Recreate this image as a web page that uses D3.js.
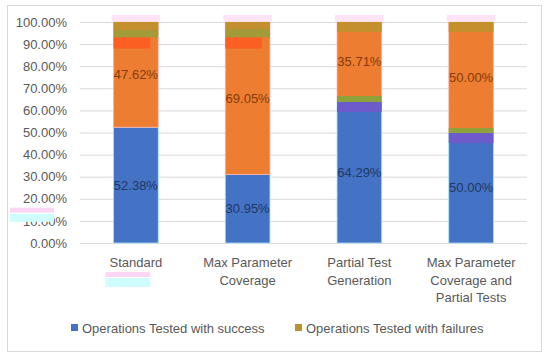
<!DOCTYPE html>
<html>
<head>
<meta charset="utf-8">
<script src="https://cdn.jsdelivr.net/npm/d3@7"></script>
<style>
  body { margin: 0; background: #fff; }
  text { font-family: "Liberation Sans", Arial, sans-serif; }
</style>
</head>
<body>
<div id="chart"></div>
<script>
/* CONSTANTS AND GLOBALS */
const width = 550,
  height = 356,
  margin = { top: 22, bottom: 113, left: 80, right: 23 };

/* DATA */
const categories = [
  ["Standard"],
  ["Max Parameter", "Coverage"],
  ["Partial Test", "Generation"],
  ["Max Parameter", "Coverage and", "Partial Tests"]
];
const successPct = [52.38, 30.95, 64.29, 50.0];
const failurePct = [47.62, 69.05, 35.71, 50.0];
const yTicks = [0, 10, 20, 30, 40, 50, 60, 70, 80, 90, 100];
const legendNames = ["Operations Tested with success", "Operations Tested with failures"];

// second, misregistered layer visible on top of the bars (bottom, top in %)
const ghostPurple = [null, null, [59.3, 63.8], [45.2, 49.8]];
const ghostGreen = [null, null, [63.8, 66.5], [49.8, 52.0]];
const ghostRed = [[88, 93], [88, 93], null, null];
const ghostOlive = [[93, 96.5], [93, 97], null, null];
const ghostGold = [[96.5, 100], [97, 100], [95.5, 100], [95.5, 100]];

const colors = {
  success: "#4472C4",
  failure: "#ED7D31",
  legendFail: "#B8922E",
  gold: "#C4902E",
  olive: "#A39A38",
  red: "#FC5F22",
  purple: "#6E5BCB",
  green: "#8DA23A"
};

const svg = d3.select("#chart")
  .append("svg")
  .attr("width", width)
  .attr("height", height);

// outer frame
svg.append("rect")
  .attr("x", 7.5).attr("y", 5.5)
  .attr("width", 534).attr("height", 346)
  .attr("fill", "#fff")
  .attr("stroke", "#d9d9d9");

/* SCALES */
const xScale = d3.scaleBand()
  .domain(d3.range(categories.length))
  .range([margin.left, width - margin.right])
  .paddingInner(0.6)
  .paddingOuter(0.3);

const yScale = d3.scaleLinear()
  .domain([0, 100])
  .range([height - margin.bottom, margin.top]);

/* GRID + Y AXIS */
const yAxis = d3.axisLeft(yScale)
  .tickValues(yTicks)
  .tickSize(-(width - margin.left - margin.right))
  .tickPadding(13)
  .tickFormat(d => d3.format(".2f")(d) + "%");

const yG = svg.append("g")
  .attr("transform", `translate(${margin.left},0)`)
  .call(yAxis);
yG.select(".domain").remove();
yG.selectAll(".tick line").attr("stroke", "#d9d9d9");
yG.selectAll(".tick text")
  .attr("fill", "#595959")
  .attr("font-size", 13);

// some of the faint pink/cyan printing ghosts
const bw = xScale.bandwidth();
svg.append("rect")
  .attr("x", xScale(0) - 8).attr("y", height - margin.bottom + 29)
  .attr("width", bw).attr("height", 5).attr("fill", "#fcd6f4");
svg.append("rect")
  .attr("x", xScale(0) - 8).attr("y", height - margin.bottom + 35)
  .attr("width", bw).attr("height", 9).attr("fill", "#cffcfc");
svg.append("rect")
  .attr("x", 10).attr("y", yScale(16))
  .attr("width", 44).attr("height", 5).attr("fill", "#fcd6f4");
svg.append("rect")
  .attr("x", 10).attr("y", yScale(13.2))
  .attr("width", 44).attr("height", 8).attr("fill", "#cffcfc");

/* BARS */
const bars = svg.append("g");

// pink caps above each bar
bars.selectAll("rect.cap")
  .data(successPct)
  .join("rect")
  .attr("class", "cap")
  .attr("x", (d, i) => xScale(i) - 2)
  .attr("y", yScale(100) - 7)
  .attr("width", bw + 4)
  .attr("height", 6)
  .attr("fill", "#fde3f6");

bars.selectAll("rect.success")
  .data(successPct)
  .join("rect")
  .attr("class", "success")
  .attr("x", (d, i) => xScale(i))
  .attr("y", d => yScale(d))
  .attr("width", bw)
  .attr("height", d => yScale(0) - yScale(d))
  .attr("fill", colors.success)
  .attr("stroke", "#a8e4f4")
  .attr("stroke-width", 0.8);

bars.selectAll("rect.failure")
  .data(failurePct)
  .join("rect")
  .attr("class", "failure")
  .attr("x", (d, i) => xScale(i))
  .attr("y", (d, i) => yScale(successPct[i] + d))
  .attr("width", bw)
  .attr("height", (d, i) => yScale(successPct[i]) - yScale(successPct[i] + d))
  .attr("fill", colors.failure)
  .attr("stroke", "#f8b4b4")
  .attr("stroke-width", 0.8);

function ghost(arr, color, cls, narrow) {
  bars.selectAll("rect." + cls)
    .data(arr.map((d, i) => ({ d, i })).filter(o => o.d))
    .join("rect")
    .attr("class", cls)
    .attr("x", o => xScale(o.i))
    .attr("y", o => yScale(o.d[1]))
    .attr("width", narrow ? bw * 0.82 : bw)
    .attr("height", o => yScale(o.d[0]) - yScale(o.d[1]))
    .attr("fill", color);
}
ghost(ghostPurple, colors.purple, "gp");
ghost(ghostGreen, colors.green, "gg");
ghost(ghostOlive, colors.olive, "go");
ghost(ghostGold, colors.gold, "gd");
ghost(ghostRed, colors.red, "gr", true);

/* LABELS */
svg.selectAll("text.lab-s")
  .data(successPct)
  .join("text")
  .attr("class", "lab-s")
  .attr("x", (d, i) => xScale(i) + bw / 2)
  .attr("y", d => yScale(d / 2))
  .attr("dy", "0.35em")
  .attr("text-anchor", "middle")
  .attr("font-size", 13)
  .attr("fill", "#203864")
  .text(d => d3.format(".2f")(d) + "%");

svg.selectAll("text.lab-f")
  .data(failurePct)
  .join("text")
  .attr("class", "lab-f")
  .attr("x", (d, i) => xScale(i) + bw / 2)
  .attr("y", (d, i) => yScale(successPct[i] + d / 2))
  .attr("dy", "0.35em")
  .attr("text-anchor", "middle")
  .attr("font-size", 13)
  .attr("fill", "#843C0C")
  .text(d => d3.format(".2f")(d) + "%");

/* X CATEGORY LABELS */
const catG = svg.selectAll("text.cat")
  .data(categories)
  .join("text")
  .attr("class", "cat")
  .attr("text-anchor", "middle")
  .attr("font-size", 13)
  .attr("fill", "#595959")
  .attr("x", (d, i) => xScale(i) + bw / 2)
  .attr("y", height - margin.bottom + 24);
catG.selectAll("tspan")
  .data(d => d)
  .join("tspan")
  .attr("x", function () { return this.parentNode.getAttribute("x"); })
  .attr("dy", (d, j) => j === 0 ? 0 : 17.5)
  .text(d => d);

/* LEGEND */
const legendX = [71, 295];
const legendColors = [colors.success, colors.legendFail];
const leg = svg.selectAll("g.leg")
  .data(legendNames)
  .join("g")
  .attr("class", "leg")
  .attr("transform", (d, i) => `translate(${legendX[i]}, 328)`);
leg.append("rect")
  .attr("x", 0).attr("y", -4)
  .attr("width", 7).attr("height", 7)
  .attr("fill", (d, i) => legendColors[i]);
leg.append("text")
  .attr("x", 11)
  .attr("dy", "0.35em")
  .attr("font-size", 13)
  .attr("fill", "#595959")
  .text(d => d);
</script>
</body>
</html>
